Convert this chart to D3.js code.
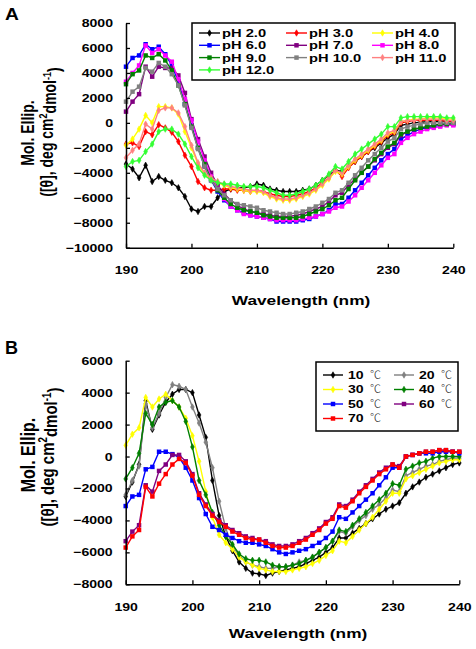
<!DOCTYPE html>
<html><head><meta charset="utf-8">
<script src="https://cdn.jsdelivr.net/npm/d3@7/dist/d3.min.js"></script>
<style>body{margin:0;background:#fff}svg{display:block}</style>
</head><body><svg id="chart" width="476" height="649"></svg>
<script>
// ---------- DATA ----------
const wavelengths = [190,191,192,193,194,195,196,197,198,199,200,201,202,203,204,205,206,207,208,209,
  210,211,212,213,214,215,216,217,218,219,220,221,222,223,224,225,226,227,228,229,
  230,231,232,233,234,235,236,237,238,239,240];
const xTicks = [190,200,210,220,230,240];
const yTicksA = [-10000,-8000,-6000,-4000,-2000,0,2000,4000,6000,8000];
const yTicksB = [-8000,-6000,-4000,-2000,0,2000,4000,6000];

const phLabels = ["pH 2.0","pH 3.0","pH 4.0","pH 6.0","pH 7.0","pH 8.0","pH 9.0","pH 10.0","pH 11.0","pH 12.0"];
const pH2 = [-3300,-3700,-4400,-3400,-4700,-4300,-4600,-4800,-5200,-5900,
  -6900,-7100,-6700,-6700,-6000,-5500,-5300,-5200,-5200,-5100,
  -4900,-5000,-5300,-5400,-5500,-5500,-5500,-5400,-5300,-5000,
  -4600,-4200,-3800,-3900,-3500,-3100,-2700,-2300,-2000,-1600,
  -1200,-900,-200,-100,0,50,100,100,150,150,100];
const pH3 = [-1700,-1600,-1900,-700,-950,-150,-400,-750,-1500,-2600,
  -3500,-4700,-5200,-5400,-5400,-5300,-5300,-5400,-5400,-5500,
  -5400,-5500,-5700,-5800,-5900,-5900,-5800,-5700,-5500,-5200,
  -4800,-4400,-3800,-4300,-3600,-3100,-2700,-2300,-1900,-1500,
  -1000,-800,0,100,200,200,200,200,200,100,100];
const pH4 = [-1800,-1300,-500,600,0,1300,1300,1200,700,-700,
  -2000,-3300,-4100,-4500,-4800,-5000,-5200,-5300,-5400,-5500,
  -5500,-5600,-5900,-6100,-6200,-6200,-6100,-5900,-5700,-5400,
  -5000,-4500,-3900,-4100,-3500,-3000,-2600,-2200,-1800,-1400,
  -900,-700,100,200,300,300,400,400,400,300,300];
const pH6 = [4500,5200,5400,6300,5900,6100,5500,4600,3300,1500,
  -200,-2000,-3500,-4600,-5500,-6200,-6700,-7000,-7200,-7400,
  -7500,-7600,-7700,-7900,-7900,-7900,-7900,-7800,-7700,-7500,
  -7300,-7000,-6500,-6500,-6000,-5400,-4800,-4200,-3600,-3000,
  -2500,-2100,-1300,-1000,-700,-500,-400,-300,-200,-100,-100];
const pH7 = [900,1700,2300,4500,3700,4500,4400,4400,3800,2400,
  300,-1300,-2700,-4000,-5000,-5700,-6200,-6600,-6900,-7100,
  -7200,-7300,-7400,-7500,-7500,-7500,-7400,-7300,-7100,-6900,
  -6700,-6300,-5800,-5600,-5000,-4500,-4000,-3500,-3000,-2500,
  -2000,-1700,-1000,-700,-500,-400,-300,-200,-100,-100,-100];
const pH8 = [3300,4000,4600,6200,5600,5900,5400,4900,3500,1900,
  200,-1500,-3000,-4300,-5300,-6100,-6700,-7000,-7300,-7400,
  -7500,-7600,-7700,-7800,-7800,-7800,-7800,-7700,-7600,-7500,
  -7300,-7100,-6800,-6700,-6300,-5800,-5200,-4600,-4000,-3400,
  -2800,-2500,-1600,-1200,-900,-700,-500,-400,-300,-200,-200];
const pH9 = [3100,3900,4200,5400,5200,5500,5000,4200,3000,1500,
  -300,-2000,-3300,-4500,-5400,-6000,-6500,-6800,-7000,-7100,
  -7200,-7400,-7500,-7600,-7600,-7600,-7600,-7500,-7300,-7100,
  -6900,-6600,-6200,-6000,-5300,-4600,-4000,-3500,-2900,-2400,
  -1900,-1600,-900,-700,-500,-400,-300,-200,-100,-100,0];
const pH10 = [1700,2500,2900,4400,4100,4800,4500,3900,3000,1400,
  -400,-2100,-3500,-4600,-5300,-5800,-6200,-6500,-6600,-6700,
  -6800,-7000,-7100,-7200,-7300,-7300,-7200,-7100,-6900,-6700,
  -6400,-6100,-5600,-5400,-4800,-4200,-3600,-3000,-2500,-2000,
  -1500,-1200,-500,-300,-200,-100,0,0,0,0,0];
const pH11 = [-2800,-2200,-1700,-100,-500,1000,1200,1200,800,-300,
  -1800,-3200,-4000,-4400,-4700,-4900,-5100,-5200,-5300,-5400,
  -5400,-5500,-5800,-6000,-6100,-6100,-6000,-5800,-5600,-5300,
  -4900,-4400,-3800,-4000,-3400,-2900,-2500,-2100,-1700,-1300,
  -800,-600,100,200,200,300,300,300,300,200,200];
const pH12 = [-3500,-3100,-3000,-2300,-1700,-700,-500,-500,-900,-1700,
  -2700,-3600,-4200,-4600,-4800,-4900,-4900,-5000,-5100,-5100,
  -5100,-5200,-5400,-5600,-5800,-5800,-5700,-5500,-5300,-5000,
  -4600,-4100,-3500,-3700,-3100,-2500,-2100,-1700,-1300,-900,
  -300,-300,400,500,500,500,500,500,500,400,400];

const tempLabels = ["10","20","30","40","50","60","70"];
const t10 = [-2500,-1600,-500,3500,1700,2600,3400,3900,4200,4200,
  4000,2600,1200,-1500,-3700,-5000,-5900,-6600,-7000,-7300,
  -7350,-7450,-7300,-7200,-7100,-7000,-6900,-6700,-6500,-6300,
  -6000,-5700,-5100,-5100,-4800,-4500,-4200,-3900,-3600,-3300,
  -3100,-2900,-2300,-1900,-1600,-1300,-1100,-900,-700,-500,-400];
const t20 = [-2400,-1500,-600,3300,1800,2700,3700,4500,4400,4200,
  3100,2100,900,-700,-2800,-4500,-5600,-6200,-6600,-6800,
  -6900,-7000,-7000,-6900,-6900,-6800,-6600,-6500,-6300,-6000,
  -5700,-5300,-4700,-4800,-4400,-4000,-3700,-3300,-3000,-2600,
  -2100,-2200,-1200,-1000,-800,-600,-500,-300,-200,-100,-100];
const t30 = [700,1400,1800,3700,3100,3600,3900,3500,3100,2400,
  1300,-300,-2200,-3800,-4900,-5400,-5800,-6300,-6600,-6800,
  -7000,-7100,-7200,-7200,-7200,-7100,-7000,-6900,-6700,-6500,
  -6200,-5900,-5300,-5400,-5000,-4600,-4200,-3800,-3300,-2800,
  -2300,-2300,-1400,-1200,-1000,-800,-600,-400,-300,-200,-200];
const t40 = [-1400,-700,200,2700,2000,3100,3400,3500,3100,2200,
  600,-1500,-2400,-3500,-4300,-5000,-5500,-6100,-6400,-6500,
  -6500,-6600,-6800,-6900,-6900,-6800,-6700,-6500,-6300,-6000,
  -5700,-5300,-4600,-4700,-4300,-3900,-3500,-3100,-2700,-2300,
  -1700,-1800,-800,-600,-400,-300,-100,0,0,0,0];
const t50 = [-3100,-2500,-2400,-800,-650,300,300,150,-50,-700,
  -1500,-2600,-3600,-4400,-4600,-4900,-5100,-5300,-5400,-5400,
  -5500,-5600,-5800,-6000,-6100,-6000,-5900,-5800,-5600,-5400,
  -5100,-4700,-3800,-3900,-3500,-3100,-2700,-2300,-1800,-1300,
  -700,-700,0,100,200,200,200,300,300,300,200];
const t60 = [-5300,-4700,-4300,-1800,-2200,-900,-500,100,100,-300,
  -1100,-2300,-3000,-3600,-4000,-4300,-4600,-4800,-5000,-5100,
  -5200,-5300,-5500,-5600,-5600,-5500,-5300,-5100,-4800,-4500,
  -4100,-3800,-3000,-3100,-2700,-2200,-1800,-1400,-1000,-700,
  -500,-600,0,100,200,300,300,400,400,300,300];
const t70 = [-5700,-5000,-4600,-1900,-2500,-1700,-1100,-500,-150,-400,
  -1200,-2400,-3100,-3700,-4100,-4400,-4700,-4900,-5100,-5200,
  -5200,-5400,-5600,-5700,-5700,-5600,-5400,-5200,-4900,-4600,
  -4200,-3900,-3100,-3200,-2800,-2300,-1900,-1500,-1100,-800,
  -500,-700,0,100,200,300,300,400,400,300,300];

// ---------- STYLE ----------
const SX = 1.28; // horizontal stretch of the original figure
const FONT = "'Liberation Sans', Arial, sans-serif";
const seriesA = [
  {name: phLabels[0], v: pH2, c: "#000000", m: "d"},
  {name: phLabels[1], v: pH3, c: "#ff0000", m: "d"},
  {name: phLabels[2], v: pH4, c: "#ffff00", m: "d"},
  {name: phLabels[3], v: pH6, c: "#0000ff", m: "s"},
  {name: phLabels[4], v: pH7, c: "#800080", m: "s"},
  {name: phLabels[5], v: pH8, c: "#ff00ff", m: "s"},
  {name: phLabels[6], v: pH9, c: "#008000", m: "s"},
  {name: phLabels[7], v: pH10, c: "#808080", m: "s"},
  {name: phLabels[8], v: pH11, c: "#ff8080", m: "d"},
  {name: phLabels[9], v: pH12, c: "#33ff33", m: "d"}
];
const seriesB = [
  {name: tempLabels[0], v: t10, c: "#000000", m: "d"},
  {name: tempLabels[1], v: t20, c: "#808080", m: "d"},
  {name: tempLabels[2], v: t30, c: "#ffff00", m: "d"},
  {name: tempLabels[3], v: t40, c: "#008000", m: "d"},
  {name: tempLabels[4], v: t50, c: "#0000ff", m: "s"},
  {name: tempLabels[5], v: t60, c: "#800080", m: "s"},
  {name: tempLabels[6], v: t70, c: "#ff0000", m: "s"}
];

const svg = d3.select("#chart");
svg.append("rect").attr("width",476).attr("height",649).attr("fill","#fff");

function sym(m){ return m === "s" ? d3.symbol(d3.symbolSquare, 20)() : d3.symbol(d3.symbolDiamond, 12)(); }

function stretchedText(g, x, y, txt, size, weight, anchor, sx){
  return g.append("text").attr("transform", `translate(${x},${y}) scale(${sx||SX},1)`)
    .attr("font-family", FONT).attr("font-size", size).attr("font-weight", weight||"bold")
    .attr("text-anchor", anchor||"start").attr("dy","0.35em").text(txt);
}

function panel(cfg){
  const x = d3.scaleLinear().domain([190,240]).range([cfg.x0, cfg.x1]);
  const y = d3.scaleLinear().domain(cfg.yDom).range([cfg.yBot, cfg.yTop]);
  const g = svg.append("g");

  const line = d3.line().x((d,i)=>x(wavelengths[i])).y(d=>y(d));
  cfg.series.forEach(s=>{
    g.append("path").datum(s.v).attr("d", line).attr("fill","none")
      .attr("stroke", s.c).attr("stroke-width", 1.4);
    g.selectAll(null).data(s.v).join("path")
      .attr("transform",(d,i)=>`translate(${x(wavelengths[i])},${y(d)})`)
      .attr("d", sym(s.m)).attr("fill", s.c).attr("stroke", s.c).attr("stroke-width", s.m==="s"?0:0.6);
  });

  const fmt = d3.format("d");
  const xa = g.append("g").attr("transform",`translate(0,${cfg.yBot})`)
    .call(d3.axisBottom(x).tickValues(xTicks).tickFormat(fmt).tickSizeInner(-4).tickSizeOuter(0).tickPadding(19));
  const ya = g.append("g").attr("transform",`translate(${cfg.x0},0)`)
    .call(d3.axisLeft(y).tickValues(cfg.yTicks).tickFormat(fmt).tickSizeInner(-4).tickSizeOuter(0).tickPadding(13));
  [xa, ya].forEach(a=>{
    a.select(".domain").attr("stroke","#000").attr("stroke-width",1.5);
    a.selectAll(".tick line").attr("stroke","#000").attr("stroke-width",1.3);
    a.selectAll(".tick text").attr("font-family",FONT).attr("font-size",11)
      .attr("font-weight","bold").attr("fill","#000");
  });
  xa.selectAll(".tick text").attr("transform",`scale(${SX},1)`);
  ya.selectAll(".tick text").attr("transform",`scale(${SX},1)`).attr("x",-13/SX);

  stretchedText(svg, cfg.xTitleX, cfg.xTitleY, "Wavelength (nm)", 13.5, "bold", "middle");
  svg.append("text").attr("transform",`translate(28,${cfg.yTitleC}) rotate(-90) scale(1,${SX})`)
    .attr("font-family",FONT).attr("font-size",cfg.yt1Size).attr("font-weight","bold")
    .attr("text-anchor","middle").attr("dy","0.35em").text("Mol. Ellip.");
  const yt2 = svg.append("text").attr("transform",`translate(47,${cfg.yTitleC2}) rotate(-90) scale(1,${SX})`)
    .attr("font-family",FONT).attr("font-size",cfg.yt2Size).attr("font-weight","bold")
    .attr("text-anchor","middle").attr("dy","0.35em");
  yt2.append("tspan").text("([θ], deg cm");
  yt2.append("tspan").attr("font-size",cfg.yt2Size*0.65).attr("dy","-0.5em").text("2");
  yt2.append("tspan").attr("dy","0.5em").text("dmol");
  yt2.append("tspan").attr("font-size",cfg.yt2Size*0.65).attr("dy","-0.5em").text("-1");
  yt2.append("tspan").attr("dy","0.5em").text(")");
  svg.append("text").attr("transform",`translate(${cfg.letterX},${cfg.letterY}) scale(${cfg.letterSX},1)`)
    .attr("font-family",FONT).attr("font-size",cfg.letterSize).attr("font-weight","bold").text(cfg.letter);
  return {x, y};
}

// ---------- PANEL A ----------
panel({series: seriesA, x0:126, x1:453.3, yDom:[-10000,8000], yBot:247.7, yTop:23, yTicks:yTicksA,
  xTitleX:301, xTitleY:300, yTitleC:133, yTitleC2:132, yt1Size:14, yt2Size:14,
  letter:"A", letterX:5, letterY:20, letterSize:16, letterSX:1.2});

(function(){
  const g = svg.append("g");
  g.append("rect").attr("x",192).attr("y",23).attr("width",263).attr("height",57)
    .attr("fill","#fff").attr("stroke","#000").attr("stroke-width",1.5);
  const colX = [199, 286, 372], rowY = [33, 45.3, 57.6, 69.9];
  seriesA.forEach((s,i)=>{
    const cx = colX[i%3], cy = rowY[Math.floor(i/3)];
    g.append("line").attr("x1",cx).attr("x2",cx+21).attr("y1",cy).attr("y2",cy)
      .attr("stroke",s.c).attr("stroke-width",1.4);
    g.append("path").attr("transform",`translate(${cx+10.5},${cy})`).attr("d",sym(s.m))
      .attr("fill",s.c).attr("stroke",s.c).attr("stroke-width",s.m==="s"?0:0.6);
    stretchedText(g, cx+23, cy, s.name, 11.5, "bold", "start");
  });
})();

// ---------- PANEL B ----------
panel({series: seriesB, x0:125.7, x1:459.3, yDom:[-8000,6000], yBot:584.3, yTop:360.7, yTicks:yTicksB,
  xTitleX:298, xTitleY:633, yTitleC:455, yTitleC2:457, yt1Size:16, yt2Size:15,
  letter:"B", letterX:5, letterY:354, letterSize:18, letterSX:1.0});

(function(){
  const g = svg.append("g");
  g.append("rect").attr("x",316).attr("y",362).attr("width",142).attr("height",69)
    .attr("fill","#fff").attr("stroke","#000").attr("stroke-width",1.5);
  const colX = [323, 394], rowY = [375, 389.5, 404, 418.5];
  seriesB.forEach((s,i)=>{
    const cx = colX[i%2], cy = rowY[Math.floor(i/2)];
    g.append("line").attr("x1",cx).attr("x2",cx+20).attr("y1",cy).attr("y2",cy)
      .attr("stroke",s.c).attr("stroke-width",1.4);
    g.append("path").attr("transform",`translate(${cx+10},${cy})`).attr("d",sym(s.m))
      .attr("fill",s.c).attr("stroke",s.c).attr("stroke-width",s.m==="s"?0:0.6);
    stretchedText(g, cx+25, cy, s.name, 11, "bold", "start");
    g.append("text").attr("x", cx+47).attr("y", cy).attr("dy","0.35em")
      .attr("font-family","'Noto Sans CJK SC', sans-serif").attr("font-size",11)
      .attr("font-weight",300).attr("fill","#222").text("℃");
  });
})();
</script></body></html>
